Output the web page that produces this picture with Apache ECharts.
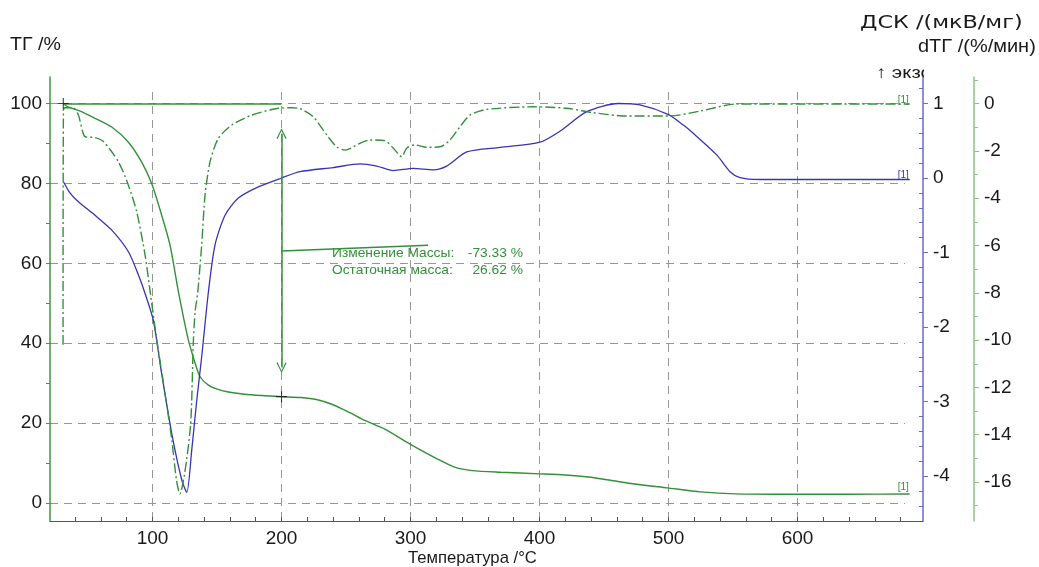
<!DOCTYPE html>
<html>
<head>
<meta charset="utf-8">
<script src="https://cdn.jsdelivr.net/npm/echarts@6/dist/echarts.min.js"></script>
<style>
  html, body { margin: 0; padding: 0; background: #fff; }
  #chart { width: 1039px; height: 567px; }
</style>
</head>
<body>
<div id="chart"></div>
<script>
// Thermogravimetry (ТГ), DSC signal (ДСК) and derivative (dТГ) vs temperature
const tgPoints = [
  [30.8,100],[33.5,99.3],[37.3,98.8],[42.5,98.25],[55.4,96.3],[68.4,94.1],[81.3,90.3],
  [91.6,85.3],[99.4,79.9],[107.1,72],[113.6,64.5],[120,53],[127.8,40.75],[133,35],
  [136.8,31.6],[143.3,29.5],[150,28.5],[158.8,27.8],[170,27.3],[184.7,26.9],[200,26.62],
  [215,26.4],[227,25.9],[240,24.6],[253,22.6],[265,20.6],[280,18.5],[300,14.7],[321,11],
  [334.7,8.9],[348,8.1],[370,7.7],[400,7.3],[420,7],[438,6.5],[455,5.7],[470.7,4.9],
  [499,3.8],[525,2.8],[552,2.3],[599,2.2],[640,2.2],[687,2.25]
];
const dscPoints = [
  [30.9,-0.05],[36,-0.2],[42.5,-0.32],[55.4,-0.5],[68.4,-0.7],[81.3,-0.99],[89,-1.3],
  [94.2,-1.55],[100.6,-1.91],[107,-2.62],[114.9,-3.43],[122.6,-4.05],[126.5,-4.22],
  [130.4,-3.65],[134.3,-2.98],[138.1,-2.4],[143.3,-1.53],[148.4,-0.9],[156.2,-0.5],
  [166.5,-0.27],[182,-0.12],[200,0],[214.3,0.085],[240,0.14],[260.9,0.19],[273.8,0.16],
  [286.7,0.1],[302,0.13],[317.7,0.11],[328,0.16],[343.6,0.35],[369.4,0.41],[400.4,0.48],
  [416,0.63],[436.6,0.89],[461,1.0],[477.9,0.98],[500,0.85],[511.5,0.71],[519.2,0.6],
  [537.4,0.31],[547.7,0.085],[555.4,0.005],[571,-0.02],[620,-0.02],[687,-0.02]
];
const dtgPoints = [
  [30.6,-10.2],[30.9,-0.27],[32.2,-0.18],[38.6,-0.18],[42.5,-0.49],[47.7,-1.4],[55.4,-1.44],
  [61.9,-1.61],[73.5,-2.46],[81.2,-3.44],[87.7,-4.57],[94.2,-6.4],[98,-7.9],[103.3,-10.0],
  [108.4,-11.8],[114.9,-14.2],[118.5,-15.9],[121.2,-16.5],[125,-15.6],[129.6,-13.5],
  [131.6,-10.1],[133,-8.8],[135,-8.0],[138.1,-5.98],[140.7,-3.87],[144.6,-2.46],[151,-1.47],
  [161.4,-0.91],[176.9,-0.49],[197.5,-0.2],[207.9,-0.18],[214.3,-0.22],[224.6,-0.56],
  [235,-1.33],[242.8,-1.83],[249.2,-1.97],[260.9,-1.68],[268.6,-1.54],[280.2,-1.57],
  [286.7,-1.89],[293.2,-2.25],[297,-1.89],[303.5,-1.75],[312.6,-1.85],[322.9,-1.83],
  [330.6,-1.54],[338.4,-0.98],[346.1,-0.49],[359,-0.25],[395.2,-0.14],[421,-0.2],
  [441.7,-0.39],[467.6,-0.53],[501,-0.53],[524.4,-0.32],[552.9,-0.02],[600,-0.02],[687,-0.02]
];

// Tick values
const tempLabels = [100, 200, 300, 400, 500, 600];
const tempTicks = [40,60,80,100,120,140,160,180,200,220,240,260,280,300,320,340,360,380,400,
  420,440,460,480,500,520,540,560,580,600,620,640,660,680];
const tgLabels = [0, 20, 40, 60, 80, 100];
const tgTicks = [0, 10, 20, 30, 40, 50, 60, 70, 80, 90, 100];
const dscLabels = [-4, -3, -2, -1, 0, 1];
const dscMinorTicks = [-4.4,-4.2,-3.8,-3.6,-3.4,-3.2,-2.8,-2.6,-2.4,-2.2,-1.8,-1.6,-1.4,-1.2,
  -0.8,-0.6,-0.4,-0.2,0.2,0.4,0.6,0.8,1.2];
const dtgLabels = [-16, -14, -12, -10, -8, -6, -4, -2, 0];
const dtgMinorTicks = [-17, -15, -13, -11, -9, -7, -5, -3, -1, 1];

// Mass-step evaluation
const stepTemp = 200;
const baselineStartTemp = 30.8;
const baselineMass = 100;
const massChange = -73.33;
const residualMass = 26.62;
const arrowSpan = [92.4, 33.9];
const leaderLine = [[200, 63.1], [313.6, 64.5]];

const GREEN = '#33903a';
const BLUE = '#3535b0';
const FONT = 'Liberation Sans, Arial, sans-serif';
const WIDE_FONT = 'DejaVu Sans, Liberation Sans, sans-serif';

const chevron = 'path://M0,0 L6,10 L5,11 L0,2.4 L-5,11 L-6,10 Z';
const plus = 'path://M4.5,0h1v4.5h4.5v1h-4.5v4.5h-1v-4.5h-4.5v-1h4.5z';

const chart = echarts.init(document.getElementById('chart'), null, { renderer: 'canvas' });

const tickLabel = { fontFamily: FONT, fontSize: 19, color: '#1a1a1a' };
const gridDash = { color: '#969696', width: 1, type: [8, 6] };

function caption(text, x, y, font, scaleX) {
  return {
    type: 'text', x: x, y: y, scaleX: scaleX, z: 1,
    style: { text: text, font: font, fill: '#1a1a1a', verticalAlign: 'middle' }
  };
}
function note(text, x, y, align) {
  return {
    type: 'text', x: x, y: y, scaleX: 1.06, z: 1,
    style: { text: text, font: '13px ' + FONT, fill: GREEN, align: align, verticalAlign: 'middle' }
  };
}

chart.setOption({
  animation: false,
  backgroundColor: '#fff',
  grid: [
    // dashed grid area
    { left: 50, right: 134, top: 92, bottom: 46 },
    // axes and curves
    { left: 50, right: 116, top: 77, bottom: 46 }
  ],
  xAxis: [
    {
      gridIndex: 0, type: 'value', min: 20.5, max: 683.3,
      axisLine: { show: false }, axisTick: { show: false }, axisLabel: { show: false },
      splitLine: { show: true, showMinLine: false, showMaxLine: false, lineStyle: gridDash }
    },
    {
      gridIndex: 1, type: 'value', min: 20.5, max: 697.3,
      axisLine: { show: true, onZero: false, lineStyle: { color: '#555', width: 1.2 } },
      axisTick: { show: true, inside: true, length: 4, customValues: tempTicks, lineStyle: { color: '#555' } },
      axisLabel: Object.assign({ customValues: tempLabels, margin: 8 }, tickLabel),
      splitLine: { show: false }
    }
  ],
  yAxis: [
    {
      gridIndex: 0, type: 'value', min: -4.5, max: 102.875,
      axisLine: { show: false }, axisTick: { show: false }, axisLabel: { show: false },
      splitLine: { show: true, showMinLine: false, showMaxLine: false, lineStyle: gridDash }
    },
    {
      gridIndex: 1, type: 'value', position: 'left', min: -4.5, max: 106.625,
      axisLine: { show: true, onZero: false, lineStyle: { color: '#3d9a3d', width: 1.5 } },
      axisTick: { show: true, length: 4, customValues: tgTicks, lineStyle: { color: '#3d9a3d' } },
      axisLabel: Object.assign({ customValues: tgLabels, margin: 8 }, tickLabel),
      splitLine: { show: false }
    },
    {
      gridIndex: 1, type: 'value', position: 'right', offset: 0, min: -4.604, max: 1.3557,
      axisLine: { show: true, onZero: false, lineStyle: { color: '#6a6ac8', width: 1.5 } },
      axisTick: { show: true, length: 5, customValues: dscLabels, lineStyle: { color: '#6a6ac8' } },
      axisLabel: Object.assign({ customValues: dscLabels, margin: 10 }, tickLabel),
      splitLine: { show: false }
    },
    {
      gridIndex: 1, type: 'value', position: 'right', offset: 0, min: -4.604, max: 1.3557,
      axisLine: { show: false },
      axisTick: { show: true, inside: true, length: 4, customValues: dscMinorTicks, lineStyle: { color: '#6a6ac8' } },
      axisLabel: { show: false }, splitLine: { show: false }
    },
    {
      gridIndex: 1, type: 'value', position: 'right', offset: 51, min: -17.646, max: 1.12,
      axisLine: { show: true, onZero: false, lineStyle: { color: '#86c486', width: 1.5 } },
      axisTick: { show: true, length: 5, customValues: dtgLabels, lineStyle: { color: '#86c486' } },
      axisLabel: Object.assign({ customValues: dtgLabels, margin: 10 }, tickLabel),
      splitLine: { show: false }
    },
    {
      gridIndex: 1, type: 'value', position: 'right', offset: 51, min: -17.646, max: 1.12,
      axisLine: { show: false },
      axisTick: { show: true, length: 4, customValues: dtgMinorTicks, lineStyle: { color: '#86c486' } },
      axisLabel: { show: false }, splitLine: { show: false }
    }
  ],
  series: [
    {
      name: 'ТГ', type: 'line', xAxisIndex: 1, yAxisIndex: 1,
      data: tgPoints, showSymbol: false, smooth: 0.25, z: 3,
      lineStyle: { color: GREEN, width: 1.4 },
      endLabel: { show: true, formatter: '[1]', fontSize: 10, fontFamily: FONT, color: GREEN, distance: 0, offset: [-12, -7] },
      markLine: {
        silent: true, animation: false, symbol: 'none', label: { show: false },
        lineStyle: { color: GREEN, width: 1.5, type: 'solid' },
        data: [
          [{ coord: [baselineStartTemp, baselineMass] }, { coord: [stepTemp, baselineMass] }],
          [{ coord: leaderLine[0] }, { coord: leaderLine[1] }],
          [
            { coord: [stepTemp, arrowSpan[0]], symbol: chevron, symbolSize: [10, 11] },
            { coord: [stepTemp, arrowSpan[1]], symbol: chevron, symbolSize: [10, 11] }
          ]
        ]
      }
    },
    {
      name: 'ДСК', type: 'line', xAxisIndex: 1, yAxisIndex: 2,
      data: dscPoints, showSymbol: false, smooth: 0.25, z: 3,
      lineStyle: { color: BLUE, width: 1.3 },
      endLabel: { show: true, formatter: '[1]', fontSize: 10, fontFamily: FONT, color: BLUE, distance: 0, offset: [-12, -4] }
    },
    {
      name: 'dТГ', type: 'line', xAxisIndex: 1, yAxisIndex: 4,
      data: dtgPoints, showSymbol: false, smooth: 0.25, z: 3,
      lineStyle: { color: GREEN, width: 1.4, type: [10, 3, 2, 3] },
      endLabel: { show: true, formatter: '[1]', fontSize: 10, fontFamily: FONT, color: GREEN, distance: 0, offset: [-12, -4] }
    },
    {
      name: 'points', type: 'scatter', xAxisIndex: 1, yAxisIndex: 1, z: 5,
      symbol: plus, symbolSize: 11, silent: true,
      itemStyle: { color: '#111' },
      data: [[baselineStartTemp, baselineMass], [stepTemp, residualMass]]
    }
  ],
  graphic: [
    caption('ТГ /%', 10, 45, '18px ' + FONT, 1.09),
    caption('ДСК /(мкВ/мг)', 860, 23, '18px ' + WIDE_FONT, 1.24),
    caption('dТГ /(%/мин)', 918, 47, '18px ' + FONT, 1.11),
    caption('↑ экзо', 876, 73, '17px ' + FONT, 1.2),
    { type: 'rect', x: 924, y: 58, z: 10, shape: { width: 22, height: 27 }, style: { fill: '#fff' } },
    caption('Температура /°C', 408, 558, '17px ' + FONT, 0.98),
    note('Изменение Массы:', 332, 253, 'left'),
    note(massChange.toFixed(2) + ' %', 523, 253, 'right'),
    note('Остаточная масса:', 332, 270, 'left'),
    note(residualMass.toFixed(2) + ' %', 523, 270, 'right')
  ]
});
</script>
</body>
</html>
